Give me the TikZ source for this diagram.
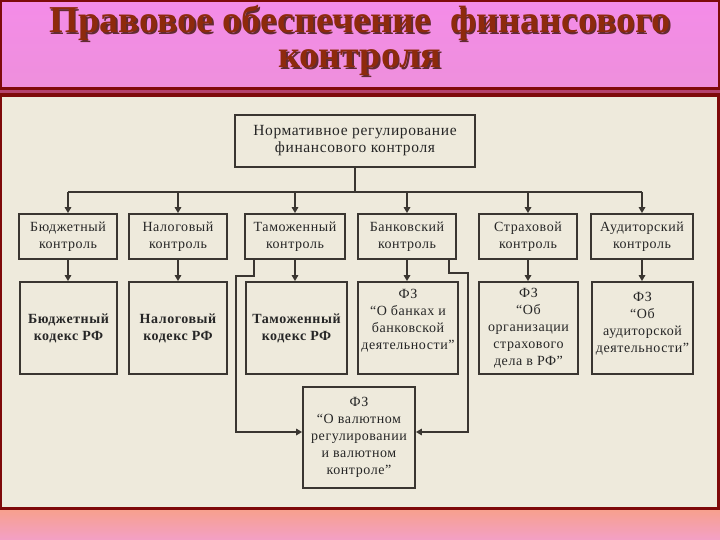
\documentclass[tikz,border=0pt]{standalone}
\usepackage{fontspec}
\setmainfont{Liberation Serif}
\usetikzlibrary{arrows.meta}
\definecolor{pinkA}{HTML}{F48CE8}
\definecolor{pinkB}{HTML}{EE8FDC}
\definecolor{darkred}{HTML}{7E0A0A}
\definecolor{mauve}{HTML}{B5426E}
\definecolor{cream}{HTML}{EEEADC}
\definecolor{salmon}{HTML}{F7A08E}
\definecolor{pinkC}{HTML}{F3A0C6}
\definecolor{titlecol}{HTML}{8E2A0C}
\definecolor{linecol}{HTML}{3A3631}
\newcommand{\boxfont}{\fontsize{14}{17}\selectfont\addfontfeature{LetterSpace=4}}
\newcommand{\topfont}{\fontsize{15.5}{17}\selectfont\addfontfeature{LetterSpace=4}}
\newcommand{\ttlfont}{\fontsize{38}{38}\bfseries\selectfont}
\tikzset{
  box/.style={draw=linecol, fill=cream, line width=1.8pt, inner sep=0pt, align=center,
    font=\boxfont, text=black!85},
  conn/.style={draw=linecol, line width=1.8pt},
  arr/.style={conn, -{Triangle[length=6pt,width=6.5pt]}},
  ttl/.style={font=\ttlfont, text=titlecol, inner sep=0pt, anchor=base},
  ttlsh/.style={font=\ttlfont, text=black!55!titlecol, opacity=0.8, inner sep=0pt, anchor=base}
}
\begin{document}
\begin{tikzpicture}[x=1pt,y=-1pt]
\useasboundingbox (0,0) rectangle (720,540);
% title band
\shade[top color=pinkA, bottom color=pinkB] (0,0) rectangle (720,87);
\draw[darkred, line width=2pt] (1,87) -- (1,1) -- (719,1) -- (719,87);
\fill[darkred] (0,87) rectangle (720,90);
\fill[mauve] (0,90) rectangle (720,93);
\fill[darkred] (0,93) rectangle (720,97);
% panel
\fill[cream] (0,97) rectangle (720,510);
\fill[darkred] (0,97) rectangle (2,510);
\fill[darkred] (717,97) rectangle (720,510);
\fill[darkred] (0,507) rectangle (720,510);
\shade[top color=salmon, bottom color=pinkC] (0,510) rectangle (720,540);
% title
\node[ttlsh] (t1s) at (361.5,34.5) {Правовое обеспечение \ финансового};
\node[ttl] (t1) at (360,33) {Правовое обеспечение \ финансового};
\node[ttlsh] (t2s) at (361.5,69.5) {контроля};
\node[ttl] (t2) at (360,68) {контроля};
% boxes
\node[box, font=\topfont, minimum width=240pt, minimum height=52pt] (top) at (355,141) {Нормативное регулирование\\финансового контроля};
\node[box, minimum width=98pt, minimum height=45pt] (b1) at (68,236.5) {Бюджетный\\контроль};
\node[box, minimum width=98pt, minimum height=45pt] (b2) at (178,236.5) {Налоговый\\контроль};
\node[box, minimum width=100pt, minimum height=45pt] (b3) at (295,236.5) {Таможенный\\контроль};
\node[box, minimum width=98pt, minimum height=45pt] (b4) at (407,236.5) {Банковский\\контроль};
\node[box, minimum width=98pt, minimum height=45pt] (b5) at (528,236.5) {Страховой\\контроль};
\node[box, minimum width=102pt, minimum height=45pt] (b6) at (642,236.5) {Аудиторский\\контроль};
\node[box, minimum width=97pt, minimum height=92pt] (c1) at (68.5,328) {\bfseries Бюджетный\\\bfseries кодекс РФ};
\node[box, minimum width=98pt, minimum height=92pt] (c2) at (178,328) {\bfseries Налоговый\\\bfseries кодекс РФ};
\node[box, minimum width=101pt, minimum height=92pt] (c3) at (296.5,328) {\bfseries Таможенный\\\bfseries кодекс РФ};
\node[box, minimum width=100pt, minimum height=92pt] (c4) at (408,328) {ФЗ\\“О банках и\\банковской\\деятельности”\\[0pt]};
\node[box, minimum width=99pt, minimum height=92pt] (c5) at (528.5,328) {ФЗ\\“Об\\организации\\страхового\\дела в РФ”};
\node[box, minimum width=101pt, minimum height=92pt] (c6) at (642.5,328) {ФЗ\\“Об\\аудиторской\\деятельности”\\[-5pt]};
\node[box, minimum width=112pt, minimum height=101pt] (d) at (359,437.5) {ФЗ\\“О валютном\\регулировании\\и валютном\\контроле”};
% connectors
\coordinate (bus) at (0,192);
\draw[conn] (top.south) -- (top.south |- bus);
\draw[conn] (b1.north |- bus) -- (b6.north |- bus);
\foreach \n in {b1,b2,b3,b4,b5,b6} {
  \draw[arr] (\n.north |- bus) -- (\n.north);
}
\draw[arr] (b1.south) -- (b1.south |- c1.north);
\draw[arr] (b2.south) -- (b2.south |- c2.north);
\draw[arr] (b3.south) -- (b3.south |- c3.north);
\draw[arr] (b4.south) -- (b4.south |- c4.north);
\draw[arr] (b5.south) -- (b5.south |- c5.north);
\draw[arr] (b6.south) -- (b6.south |- c6.north);
\coordinate (lA) at (254,276);
\coordinate (lB) at (236,276);
\coordinate (lC) at (236,432);
\draw[arr] (b3.south west -| lA) -- (lA) -- (lB) -- (lC) -- (d.west |- lC);
\coordinate (rA) at (449,273);
\coordinate (rB) at (468,273);
\coordinate (rC) at (468,432);
\draw[arr] (b4.south east -| rA) -- (rA) -- (rB) -- (rC) -- (d.east |- rC);
\end{tikzpicture}
\end{document}
